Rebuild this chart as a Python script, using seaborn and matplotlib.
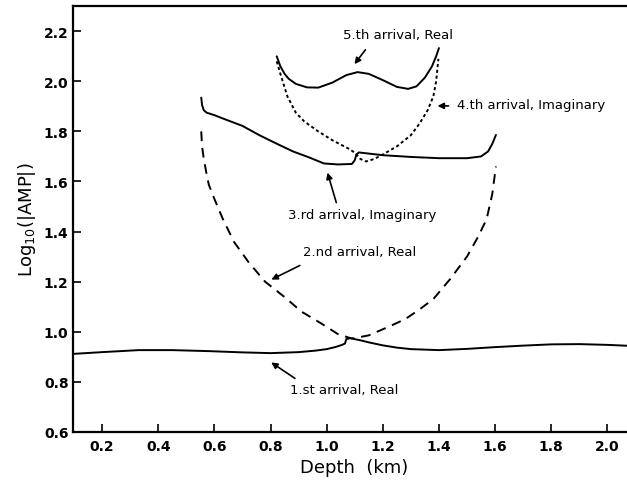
import matplotlib
matplotlib.use("Agg")
import matplotlib.pyplot as plt
import seaborn as sns
import pandas as pd

# ---- data ----
arr1_depth = [0.097, 0.2, 0.33, 0.45, 0.58, 0.7, 0.8, 0.9, 0.96, 1.0, 1.03, 1.05, 1.065,
              1.07, 1.085, 1.1, 1.125, 1.15, 1.2, 1.25, 1.3, 1.4, 1.5, 1.6, 1.7, 1.8,
              1.9, 2.0, 2.1]
arr1_amp = [0.911, 0.918, 0.926, 0.926, 0.922, 0.917, 0.914, 0.918, 0.924, 0.930, 0.938,
            0.945, 0.952, 0.970, 0.974, 0.970, 0.964, 0.957, 0.945, 0.936, 0.930, 0.926,
            0.931, 0.938, 0.944, 0.949, 0.950, 0.947, 0.942]

arr2_depth = [0.553, 0.556, 0.562, 0.572, 0.58, 0.6, 0.63, 0.67, 0.72, 0.78, 0.85, 0.91,
              0.98, 1.04, 1.09, 1.15, 1.22, 1.28, 1.33, 1.38, 1.44, 1.50, 1.54, 1.57,
              1.59, 1.603]
arr2_amp = [1.80, 1.74, 1.69, 1.63, 1.587, 1.53, 1.45, 1.358, 1.28, 1.20, 1.138, 1.08,
            1.033, 0.99, 0.972, 0.985, 1.019, 1.05, 1.088, 1.13, 1.21, 1.30, 1.38, 1.45,
            1.55, 1.66]

arr3_depth = [0.553, 0.556, 0.562, 0.572, 0.6, 0.634, 0.70, 0.76, 0.82, 0.88, 0.94, 0.99,
              1.04, 1.09, 1.100, 1.106, 1.115, 1.13, 1.2, 1.3, 1.4, 1.5, 1.55, 1.575,
              1.59, 1.603]
arr3_amp = [1.935, 1.905, 1.885, 1.875, 1.865, 1.85, 1.822, 1.785, 1.752, 1.72, 1.695,
            1.672, 1.668, 1.670, 1.685, 1.708, 1.716, 1.714, 1.705, 1.698, 1.693, 1.693,
            1.700, 1.72, 1.75, 1.786]

arr4_depth = [0.822, 0.835, 0.86, 0.89, 0.92, 0.97, 1.02, 1.08, 1.10, 1.12, 1.14, 1.17,
              1.2, 1.25, 1.3, 1.33, 1.36, 1.38, 1.39, 1.398]
arr4_amp = [2.08, 2.03, 1.94, 1.875, 1.84, 1.80, 1.765, 1.73, 1.715, 1.69, 1.680, 1.69,
            1.708, 1.74, 1.785, 1.83, 1.885, 1.94, 2.0, 2.09]

arr5_depth = [0.822, 0.835, 0.85, 0.865, 0.89, 0.93, 0.97, 1.02, 1.07, 1.11, 1.15, 1.2,
              1.25, 1.29, 1.32, 1.35, 1.375, 1.39, 1.40]
arr5_amp = [2.10, 2.06, 2.03, 2.01, 1.99, 1.976, 1.975, 1.995, 2.025, 2.037, 2.03, 2.005,
            1.978, 1.97, 1.98, 2.015, 2.06, 2.10, 2.133]

x_ticks = [0.2, 0.4, 0.6, 0.8, 1.0, 1.2, 1.4, 1.6, 1.8, 2.0]
y_ticks = [0.6, 0.8, 1.0, 1.2, 1.4, 1.6, 1.8, 2.0, 2.2]

labels = ["1.st arrival, Real", "2.nd arrival, Real", "3.rd arrival, Imaginary",
          "4.th arrival, Imaginary", "5.th arrival, Real"]

# ---- figure ----
sns.set_style("ticks")
plt.rcParams['font.family'] = ['DejaVu Sans']
plt.rcParams['text.color'] = 'black'
plt.rcParams['axes.labelcolor'] = 'black'
plt.rcParams['xtick.color'] = 'black'
plt.rcParams['ytick.color'] = 'black'

fig = plt.figure(figsize=(6.27, 4.89), dpi=100)
ax = fig.add_axes([72.7 / 627, 56.3 / 489, (635.4 - 72.7) / 627, (432.7 - 7.3) / 489])

series = [
    (arr1_depth, arr1_amp, "-"),
    (arr2_depth, arr2_amp, (0, (5, 3.5))),
    (arr3_depth, arr3_amp, "-"),
    (arr4_depth, arr4_amp, (0, (1.6, 1.4))),
    (arr5_depth, arr5_amp, "-"),
]
for xs, ys, ls in series:
    df = pd.DataFrame({"Depth": xs, "amp": ys})
    sns.lineplot(data=df, x="Depth", y="amp", sort=False, estimator=None, ax=ax,
                 color="black", linewidth=1.4, linestyle=ls)

ax.set_xlim(0.095, 2.1)
ax.set_ylim(0.6, 2.3)
ax.set_xticks(x_ticks)
ax.set_yticks(y_ticks)
ax.set_xticklabels([f"{v:.1f}" for v in x_ticks], fontweight="bold", fontsize=10)
ax.set_yticklabels([f"{v:.1f}" for v in y_ticks], fontweight="bold", fontsize=10)
ax.tick_params(direction="in", length=6, width=1.2, colors="black", pad=5)
ax.tick_params(axis="y", pad=3)
for s in ax.spines.values():
    s.set_linewidth(1.6)
    s.set_color("black")

ax.set_xlabel("Depth  (km)", fontsize=13, labelpad=4, color="black")
ax.set_ylabel("Log$_{10}$(|AMP|)", fontsize=13, labelpad=4, color="black")

arrow = dict(arrowstyle="-|>", color="black", lw=1.2, mutation_scale=9)
fs = 9.5
ax.annotate(labels[4], xy=(1.093, 2.06), xytext=(1.255, 2.187), ha="center", va="center",
            fontsize=fs, color="black")
ax.annotate("", xy=(1.093, 2.06), xytext=(1.144, 2.135), arrowprops=arrow)
ax.annotate(labels[3], xy=(1.385, 1.902), xytext=(1.465, 1.909), ha="left", va="center",
            fontsize=fs, color="black")
ax.annotate("", xy=(1.385, 1.902), xytext=(1.444, 1.902), arrowprops=arrow)
ax.annotate(labels[2], xy=(1.0, 1.646), xytext=(1.128, 1.468), ha="center", va="center",
            fontsize=fs, color="black")
ax.annotate("", xy=(1.0, 1.646), xytext=(1.037, 1.505), arrowprops=arrow)
ax.annotate(labels[1], xy=(0.794, 1.203), xytext=(1.116, 1.32), ha="center", va="center",
            fontsize=fs, color="black")
ax.annotate("", xy=(0.794, 1.203), xytext=(0.913, 1.269), arrowprops=arrow)
ax.annotate(labels[0], xy=(0.794, 0.883), xytext=(1.061, 0.767), ha="center", va="center",
            fontsize=fs, color="black")
ax.annotate("", xy=(0.794, 0.883), xytext=(0.895, 0.807), arrowprops=arrow)

fig.savefig("out.png", dpi=100)
